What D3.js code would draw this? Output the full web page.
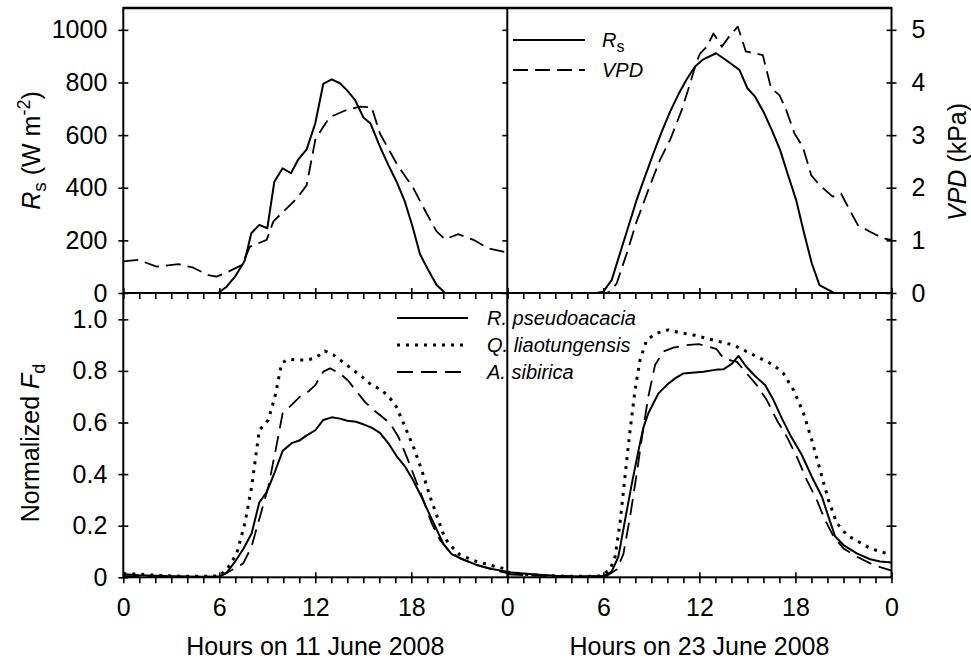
<!DOCTYPE html>
<html>
<head>
<meta charset="utf-8">
<script src="https://cdn.jsdelivr.net/npm/d3@7"></script>
<style>
  html, body { margin: 0; padding: 0; background: #fff; }
  svg { display: block; }
  text { font-family: "Liberation Sans", Arial, sans-serif; fill: #000; }
</style>
</head>
<body>
<svg id="chart" width="971" height="665"></svg>
<script>
// ---------------- DATA ----------------
const hourTicks = [0, 6, 12, 18, 24];
const rsTicks = [0, 200, 400, 600, 800, 1000];
const vpdTicks = [0, 1, 2, 3, 4, 5];
const fdTicks = [0, 0.2, 0.4, 0.6, 0.8, 1.0];
const dayLabels = ["Hours on 11 June 2008", "Hours on 23 June 2008"];
const speciesNames = ["R. pseudoacacia", "Q. liaotungensis", "A. sibirica"];

// Solar radiation Rs (W m-2), [hour, value]
const rsDay1 = [[0,0],[5.5,0],[5.94,1],[6.46,24],[6.98,62],[7.5,113],[7.6,125],[8.0,227],[8.5,259],[9.0,246],[9.44,423],[9.96,474],[10.48,455],[10.94,508],[11.46,546],[12,645],[12.5,795],[13.02,812],[13.54,797],[14,769],[14.48,734],[15,668],[15.46,643],[16.04,556],[16.56,487],[17.08,423],[17.6,347],[18.08,252],[18.54,148],[19.06,87],[19.58,30],[20.1,1],[24,0]];
const rsDay2 = [[0,0],[5.58,0],[6,5],[6.52,49],[7.04,151],[7.56,252],[8.08,354],[8.6,442],[9.13,531],[9.65,613],[10.17,689],[10.69,755],[11.21,812],[11.73,861],[12.25,888],[13.04,911],[13.5,892],[14.02,869],[14.5,848],[15,778],[15.48,746],[16,689],[16.52,620],[17.04,544],[17.5,455],[18.04,354],[18.54,227],[19.02,113],[19.5,30],[20.38,1],[24,0]];

// Vapour pressure deficit VPD (kPa), [hour, value]
const vpdDay1 = [[0,0.60],[0.94,0.63],[2.08,0.50],[3.44,0.55],[4.38,0.48],[5.31,0.34],[5.83,0.31],[6.46,0.39],[7.4,0.53],[7.92,0.88],[8.96,1.01],[9.38,1.36],[10.42,1.67],[10.94,1.83],[11.46,2.05],[12,2.91],[12.5,3.16],[12.9,3.34],[13.96,3.48],[14.8,3.54],[15.52,3.53],[16.04,3.03],[17.08,2.46],[18.13,1.99],[18.96,1.51],[19.58,1.17],[20.1,1.02],[20.94,1.12],[21.88,1.01],[22.8,0.85],[24,0.77]];
const vpdDay2 = [[0,0],[6.2,0],[6.42,0.03],[6.83,0.18],[7.46,0.75],[8.08,1.36],[8.81,1.96],[9.54,2.53],[10.17,2.91],[10.9,3.48],[11.42,3.98],[11.83,4.40],[12.04,4.55],[12.46,4.68],[12.88,4.93],[13.4,4.68],[13.92,4.9],[14.4,5.06],[14.9,4.59],[15.96,4.52],[16.48,3.89],[17,3.76],[17.42,3.48],[17.94,3.03],[18.46,2.78],[18.98,2.24],[19.5,2.05],[20.33,1.83],[20.85,1.89],[21.38,1.58],[21.9,1.29],[22.63,1.17],[23.46,1.04],[24,1.01]];

// Normalized sap flux density Fd, [hour, value]
const rpDay1 = [[0,0.012],[1,0.008],[2,0.006],[3,0.004],[4,0.003],[5,0.002],[6,0.003],[6.46,0.018],[6.98,0.06],[7.5,0.11],[8.02,0.17],[8.5,0.29],[8.96,0.33],[9.48,0.41],[9.96,0.49],[10.52,0.52],[11,0.53],[11.46,0.55],[12,0.57],[12.5,0.61],[13.02,0.62],[13.54,0.615],[14,0.607],[14.54,0.603],[15,0.593],[15.52,0.58],[16.04,0.56],[16.56,0.52],[17.08,0.47],[17.6,0.43],[18.08,0.38],[18.65,0.31],[19.17,0.24],[20,0.13],[20.52,0.09],[21.04,0.074],[22.08,0.048],[23.13,0.031],[24,0.022]];
const qlDay1 = [[0,0.014],[1,0.012],[2,0.008],[3,0.005],[4,0.004],[5,0.004],[6,0.005],[6.46,0.03],[7.08,0.09],[7.6,0.21],[8.02,0.35],[8.5,0.57],[9.06,0.61],[9.48,0.70],[9.9,0.83],[10.31,0.845],[10.83,0.842],[11.46,0.842],[12,0.85],[12.6,0.877],[13.13,0.862],[13.96,0.823],[14.9,0.778],[15.52,0.745],[16.15,0.726],[16.67,0.694],[17.08,0.66],[17.6,0.584],[18.13,0.506],[18.65,0.416],[19.17,0.313],[19.69,0.222],[20.1,0.151],[20.52,0.119],[21.04,0.087],[22.08,0.061],[23.13,0.044],[24,0.031]];
const asDay1 = [[0,0.004],[3,0.003],[6,0.001],[6.98,0.035],[7.5,0.054],[8.02,0.12],[8.54,0.235],[9.06,0.35],[9.48,0.48],[9.96,0.636],[10.52,0.668],[11.04,0.70],[11.56,0.72],[12,0.745],[12.5,0.797],[12.92,0.81],[13.54,0.79],[14.06,0.762],[14.58,0.72],[15.1,0.68],[15.63,0.649],[16.15,0.623],[16.67,0.597],[17.19,0.545],[17.71,0.468],[18.23,0.384],[18.75,0.30],[19.27,0.21],[19.79,0.145],[20.31,0.106],[21.04,0.074],[22.08,0.048],[23.13,0.028],[24,0.016]];
const rpDay2 = [[0,0.02],[1,0.015],[2,0.01],[3,0.006],[4,0.004],[5,0.003],[6,0.005],[6.52,0.022],[6.94,0.08],[7.35,0.22],[7.77,0.36],[8.19,0.49],[8.5,0.58],[8.81,0.636],[9.44,0.713],[9.96,0.745],[10.48,0.771],[11,0.79],[11.52,0.793],[12.25,0.797],[12.98,0.804],[13.5,0.806],[14.02,0.827],[14.44,0.858],[14.96,0.814],[15.48,0.78],[16.1,0.745],[16.63,0.687],[17.15,0.616],[17.67,0.552],[18.4,0.474],[19.02,0.39],[19.65,0.313],[20.06,0.235],[20.48,0.158],[21,0.125],[21.83,0.093],[22.67,0.07],[23.29,0.061],[24,0.057]];
const qlDay2 = [[0,0.02],[1,0.012],[2,0.008],[3,0.005],[4,0.004],[5,0.004],[5.8,0.005],[6.42,0.03],[6.73,0.08],[7.04,0.21],[7.35,0.39],[7.67,0.57],[7.98,0.726],[8.29,0.842],[8.71,0.92],[9.33,0.946],[10.06,0.959],[10.79,0.948],[11.63,0.939],[12.46,0.926],[13.29,0.913],[14.13,0.90],[14.96,0.875],[15.79,0.849],[16.63,0.823],[17.25,0.79],[17.88,0.726],[18.5,0.636],[19.02,0.532],[19.54,0.416],[20.06,0.30],[20.58,0.21],[21.21,0.164],[21.94,0.138],[22.67,0.112],[23.29,0.10],[24,0.087]];
const asDay2 = [[0,0.012],[2,0.006],[4,0.003],[6.2,0.005],[6.83,0.03],[7.25,0.09],[7.67,0.235],[8.08,0.40],[8.5,0.58],[8.81,0.70],[9.23,0.823],[9.75,0.875],[10.38,0.89],[11.21,0.90],[11.94,0.904],[12.56,0.894],[13.08,0.884],[13.5,0.849],[14.02,0.84],[14.33,0.836],[14.96,0.79],[15.58,0.745],[16.21,0.687],[16.83,0.61],[17.46,0.545],[18.08,0.468],[18.71,0.377],[19.33,0.30],[19.85,0.222],[20.38,0.158],[21,0.112],[21.83,0.08],[22.67,0.054],[23.29,0.039],[24,0.026]];

// ---------------- LAYOUT ----------------
const L = 123.3, M = 507.3, R = 891.5;
const T = 8, MID = 293, B = 577.3;
const FONT = 25, LEGFONT = 20;

const svg = d3.select("#chart");

const x1 = d3.scaleLinear().domain([0, 24]).range([L, M]);
const x2 = d3.scaleLinear().domain([0, 24]).range([M, R]);
const yRs = d3.scaleLinear().domain([0, 1083]).range([MID, T]);
const yVpd = d3.scaleLinear().domain([0, 5.415]).range([MID, T]);
const yFd = d3.scaleLinear().domain([0, 1.1]).range([B, MID + 0.5]);

const styles = {
  solid: { w: 2, dash: null },
  dash: { w: 1.8, dash: "15,7" },
  dot: { w: 3, dash: "3,6" },
  longdash: { w: 1.8, dash: "16,8" }
};

function drawLine(data, xs, ys, st) {
  const line = d3.line().x(d => xs(d[0])).y(d => ys(d[1]));
  const p = svg.append("path").datum(data)
    .attr("d", line).attr("fill", "none").attr("stroke", "#000")
    .attr("stroke-width", st.w).attr("stroke-linejoin", "round");
  if (st.dash) p.attr("stroke-dasharray", st.dash);
}

// curves
drawLine(vpdDay1, x1, yVpd, styles.dash);
drawLine(rsDay1, x1, yRs, styles.solid);
drawLine(vpdDay2, x2, yVpd, styles.dash);
drawLine(rsDay2, x2, yRs, styles.solid);

drawLine(asDay1, x1, yFd, styles.longdash);
drawLine(qlDay1, x1, yFd, styles.dot);
drawLine(rpDay1, x1, yFd, styles.solid);
drawLine(asDay2, x2, yFd, styles.longdash);
drawLine(qlDay2, x2, yFd, styles.dot);
drawLine(rpDay2, x2, yFd, styles.solid);

// ---------------- AXES ----------------
const hourly = d3.range(0, 25);
function styleAxis(g) {
  g.select(".domain").remove();
  g.selectAll(".tick line").attr("stroke", "#000").attr("stroke-width", 1.6);
  g.selectAll(".tick text").attr("font-size", FONT).attr("font-family", "Liberation Sans, Arial, sans-serif").attr("fill", "#000");
}

// bottom x axes (with labels) and middle x axes (ticks only)
[[x1, [0, 6, 12, 18]], [x2, hourTicks]].forEach(([xs, labelled]) => {
  [MID, B].forEach(yPos => {
    const ax = d3.axisBottom(xs).tickValues(hourly).tickSize(6).tickPadding(15)
      .tickFormat(h => (yPos === B && labelled.includes(h)) ? (h === 24 ? "0" : String(h)) : "");
    const g = svg.append("g").attr("transform", `translate(0,${yPos})`).call(ax);
    styleAxis(g);
    g.selectAll(".tick").filter(h => h % 6 === 0).select("line").attr("y1", -5);
  });
});

// left axis Rs
{
  const g = svg.append("g").attr("transform", `translate(${L},0)`)
    .call(d3.axisLeft(yRs).tickValues(rsTicks).tickSize(5).tickPadding(11).tickFormat(d3.format("d")));
  styleAxis(g);
  g.selectAll(".tick line").attr("x2", 5).attr("x1", -5);
}
// left axis Fd
{
  const g = svg.append("g").attr("transform", `translate(${L},0)`)
    .call(d3.axisLeft(yFd).tickValues(fdTicks).tickSize(5).tickPadding(11)
      .tickFormat(d => d === 0 ? "0" : d3.format(".1f")(d)));
  styleAxis(g);
  g.selectAll(".tick line").attr("x2", 5).attr("x1", -5);
}
// middle ticks (top panel)
{
  const g = svg.append("g").attr("transform", `translate(${M},0)`)
    .call(d3.axisLeft(yRs).tickValues(rsTicks).tickSize(5).tickFormat(""));
  styleAxis(g);
}
// right axis VPD
{
  const g = svg.append("g").attr("transform", `translate(${R},0)`)
    .call(d3.axisRight(yVpd).tickValues(vpdTicks).tickSize(5).tickPadding(15).tickFormat(d3.format("d")));
  styleAxis(g);
  g.selectAll(".tick line").attr("x1", -5).attr("x2", 5);
}
// right axis Fd (ticks only)
{
  const g = svg.append("g").attr("transform", `translate(${R},0)`)
    .call(d3.axisRight(yFd).tickValues(fdTicks.filter(d => d > 0)).tickSize(5).tickFormat(""));
  styleAxis(g);
  g.selectAll(".tick line").attr("x1", -5).attr("x2", 5);
}

// frame
const frame = svg.append("g").attr("stroke", "#000").attr("fill", "none");
frame.append("rect").attr("x", L).attr("y", T).attr("width", R - L).attr("height", B - T).attr("stroke-width", 2);
frame.append("line").attr("x1", L).attr("x2", R).attr("y1", T).attr("y2", T).attr("stroke-width", 2.6);
frame.append("line").attr("x1", L).attr("x2", R).attr("y1", MID).attr("y2", MID).attr("stroke-width", 2);
frame.append("line").attr("x1", M).attr("x2", M).attr("y1", T).attr("y2", B).attr("stroke-width", 2);

// ---------------- AXIS TITLES ----------------
// Rs (W m-2)
{
  const t = svg.append("text").attr("transform", `translate(40,${(T + MID) / 2}) rotate(-90)`)
    .attr("text-anchor", "middle").attr("font-size", FONT);
  t.append("tspan").attr("font-style", "italic").text("R");
  t.append("tspan").attr("font-size", 19).attr("dy", 6).text("s");
  t.append("tspan").attr("dy", -6).text(" (W m");
  t.append("tspan").attr("font-size", 18).attr("dy", -10).text("-2");
  t.append("tspan").attr("dy", 10).text(")");
}
// Normalized Fd
{
  const t = svg.append("text").attr("transform", `translate(39,443) rotate(-90)`)
    .attr("text-anchor", "middle").attr("font-size", FONT);
  t.append("tspan").text("Normalized ");
  t.append("tspan").attr("font-style", "italic").text("F");
  t.append("tspan").attr("font-size", 18).attr("dy", 6).text("d");
}
// VPD (kPa)
{
  const t = svg.append("text").attr("transform", `translate(966,162) rotate(-90)`)
    .attr("text-anchor", "middle").attr("font-size", FONT);
  t.append("tspan").attr("font-style", "italic").text("VPD");
  t.append("tspan").text(" (kPa)");
}
// x titles
[x1, x2].forEach((xs, i) => {
  svg.append("text").attr("x", xs(12)).attr("y", 655).attr("text-anchor", "middle")
    .attr("font-size", FONT).text(dayLabels[i]);
});

// ---------------- LEGENDS ----------------
// top-right legend
{
  const items = [
    { st: styles.solid, y: 40, label: ["R", "s"] },
    { st: styles.dash, y: 70, label: ["VPD", null] }
  ];
  items.forEach(it => {
    const ln = svg.append("line").attr("x1", 513).attr("x2", 585).attr("y1", it.y).attr("y2", it.y)
      .attr("stroke", "#000").attr("stroke-width", it.st.w);
    if (it.st.dash) ln.attr("stroke-dasharray", it.st.dash);
    const t = svg.append("text").attr("x", 602).attr("y", it.y + 7).attr("font-size", LEGFONT);
    t.append("tspan").attr("font-style", "italic").text(it.label[0]);
    if (it.label[1]) t.append("tspan").attr("font-size", 16).attr("dy", 5).text(it.label[1]);
  });
}
// bottom legend
{
  const sts = [styles.solid, styles.dot, styles.longdash];
  speciesNames.forEach((name, i) => {
    const y = 318 + i * 27;
    const ln = svg.append("line").attr("x1", 397).attr("x2", 468).attr("y1", y).attr("y2", y)
      .attr("stroke", "#000").attr("stroke-width", sts[i].w);
    if (sts[i].dash) ln.attr("stroke-dasharray", sts[i].dash);
    svg.append("text").attr("x", 487).attr("y", y + 7).attr("font-size", LEGFONT)
      .attr("font-style", "italic").text(name);
  });
}
</script>
</body>
</html>
